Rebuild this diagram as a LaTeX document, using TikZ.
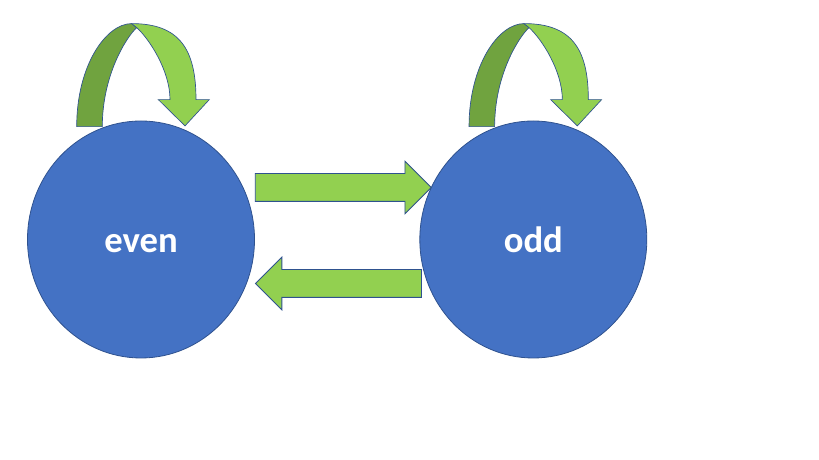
\documentclass[tikz,border=0pt]{standalone}
\usepackage{fontspec}
\setmainfont{Carlito}
\usetikzlibrary{positioning,shapes.geometric,shapes.arrows}
\definecolor{stateblue}{HTML}{4472C4}
\definecolor{edgeblue}{HTML}{2F528F}
\definecolor{loopdark}{HTML}{70A33F}
\definecolor{looplight}{HTML}{92D050}

\newcommand\selfloop[1]{%
  \begin{scope}[shift={(#1.north)}]
    \filldraw[loopback] (-64.3,-6) .. controls (-64.3,55) and (-35,97) .. (-9.3,97)
      -- (-4.3,93) .. controls (-15,83) and (-38.7,45) .. (-38.7,-6) -- cycle;
    \filldraw[loopfront] (-9.3,97) .. controls (38,97) and (55,72) .. (55,21)
      -- (68.3,21) -- (44,-5.3) -- (17.3,21) -- (29,21)
      .. controls (29,50) and (8,82) .. (-4.3,93) -- cycle;
  \end{scope}}

\begin{document}
\begin{tikzpicture}[x=0.75pt, y=0.75pt,
  state/.style = {ellipse, draw=edgeblue, fill=stateblue, line width=0.6pt,
    minimum width=170.25pt, minimum height=177.75pt, inner sep=0pt,
    text=white, font=\fontsize{27.5}{33}\selectfont\bfseries,
    text height=19.5pt, text depth=0pt},
  flow/.style = {single arrow, draw=edgeblue, fill=looplight, line width=0.6pt,
    inner sep=10.125pt, single arrow head extend=9.375pt,
    single arrow tip angle=90},
  loopback/.style = {draw=edgeblue, fill=loopdark, line width=0.5pt},
  loopfront/.style = {draw=edgeblue, fill=looplight, line width=0.5pt}
  ]
  \useasboundingbox (0,0) rectangle (819,460);
  \node[state] (even) at (141,220.5) {even};
  \node[state, right=123.4pt of even] (odd) {odd};
  \node[flow, anchor=tail, minimum height=132pt] (toodd)
    at ([yshift=39pt]even.east) {};
  \node[flow, anchor=tip, shape border rotate=180, minimum height=124.5pt] (toeven)
    at ([yshift=-33pt]even.east) {};
  \selfloop{even}
  \selfloop{odd}
\end{tikzpicture}
\end{document}
